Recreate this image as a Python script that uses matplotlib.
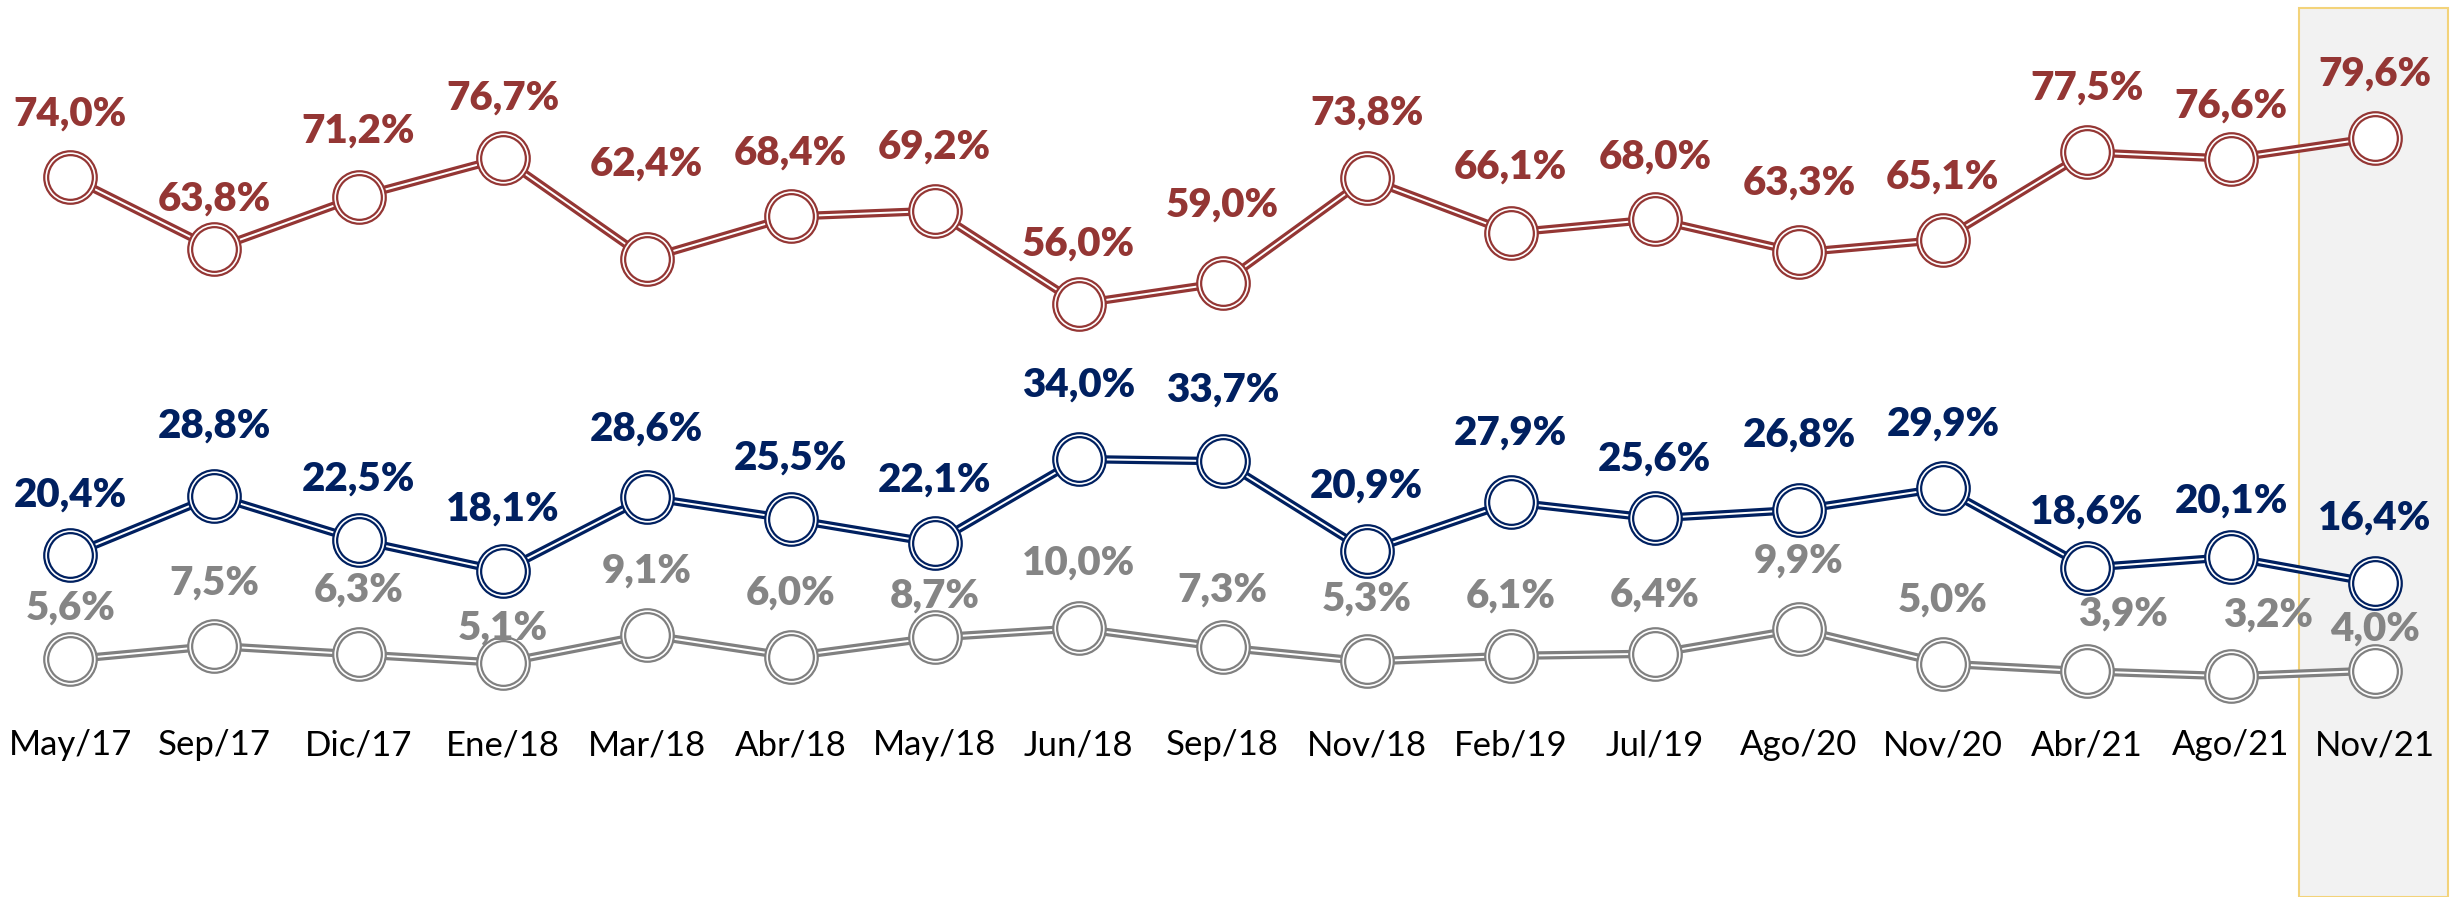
import numpy as np
import matplotlib.pyplot as plt

periodos = ["May/17", "Sep/17", "Dic/17", "Ene/18", "Mar/18", "Abr/18", "May/18",
            "Jun/18", "Sep/18", "Nov/18", "Feb/19", "Jul/19", "Ago/20", "Nov/20",
            "Abr/21", "Ago/21", "Nov/21"]

desaprueba = [74.0, 63.8, 71.2, 76.7, 62.4, 68.4, 69.2, 56.0, 59.0, 73.8, 66.1,
              68.0, 63.3, 65.1, 77.5, 76.6, 79.6]
aprueba = [20.4, 28.8, 22.5, 18.1, 28.6, 25.5, 22.1, 34.0, 33.7, 20.9, 27.9,
           25.6, 26.8, 29.9, 18.6, 20.1, 16.4]
ns_nr = [5.6, 7.5, 6.3, 5.1, 9.1, 6.0, 8.7, 10.0, 7.3, 5.3, 6.1, 6.4, 9.9, 5.0,
         3.9, 3.2, 4.0]

# label offsets above each marker (points)
off_rojo = [45, 36, 47, 43, 68, 46, 46, 43, 56, 47, 47, 45, 50, 45, 46, 38, 46]
off_azul = [43, 50, 44, 45, 49, 44, 45, 53, 51, 47, 50, 43, 54, 46, 40, 40, 47]
off_gris = [37, 45, 46, 25, 46, 46, 30, 47, 41, 45, 43, 42, 49, 46, 41, 44, 30]
dx_gris = [0] * 14 + [26, 27, 0]

ROJO = "#943634"
AZUL = "#002060"
GRIS = "#808080"

plt.rcParams["font.family"] = ["Lato", "DejaVu Sans"]

fig = plt.figure(figsize=(24.58, 8.97), dpi=100)
ax = fig.add_axes([0, 0, 1, 1])
ax.set_xlim(-0.489, 16.576)
ax.set_ylim(-28.1, 99.1)
ax.axis("off")

x = np.arange(len(periodos))

# highlighted last period
ax.axvspan(15.47, 16.51, ymin=0, ymax=0.991, facecolor="#f2f2f2",
           edgecolor="#f3d37a", lw=1.5, zorder=0)


def serie(vals, color, offs, dx=None, txtcolor=None):
    ax.plot(x, vals, color=color, lw=6, solid_capstyle="butt", zorder=2)
    ax.plot(x, vals, color="white", lw=1.4, solid_capstyle="butt", zorder=2.1)
    ax.plot(x, vals, ls="none", marker="o", ms=35, mfc="white", mec=color,
            mew=4.4, zorder=3)
    ax.plot(x, vals, ls="none", marker="o", ms=35, mfc="none", mec="white",
            mew=1.2, zorder=3.1)
    for i, v in enumerate(vals):
        ox = dx[i] if dx else 0
        ax.annotate(f"{v:.1f}%".replace(".", ","), (x[i], v),
                    xytext=(ox, offs[i]), textcoords="offset points",
                    ha="center", va="center", fontsize=29, fontweight="heavy",
                    color=txtcolor or color, zorder=4)


serie(desaprueba, ROJO, off_rojo)
serie(aprueba, AZUL, off_azul)
serie(ns_nr, GRIS, off_gris, dx_gris, txtcolor="#858585")

for i, p in enumerate(periodos):
    ax.text(x[i], -6.6, p, ha="center", va="center", fontsize=25, color="black")

fig.savefig("out.png", dpi=100)
